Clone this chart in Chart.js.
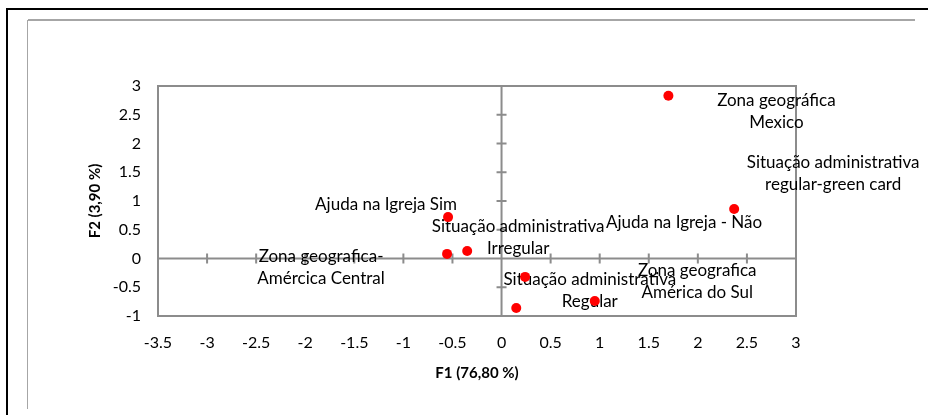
<!DOCTYPE html>
<html>
<head>
<meta charset="utf-8">
<script src="https://cdn.jsdelivr.net/npm/chart.js@4"></script>
<style>
  html, body { margin: 0; padding: 0; background: #fff; }
  #wrap { position: relative; width: 928px; height: 415px; }
</style>
</head>
<body>
<div id="wrap"><canvas id="chart" width="928" height="415"></canvas></div>
<script>
// Modalidades (rótulos) e coordenadas F1 / F2
const labels = [
    ['Zona geográfica', 'Mexico'],
    ['Situação administrativa', 'regular-green card'],
    ['Ajuda na Igreja Sim'],
    ['Situação administrativa', 'Irregular'],
    ['Zona geografica-', 'Amércica Central'],
    ['Ajuda na Igreja - Não'],
    ['Situação administrativa', 'Regular'],
    ['Zona geografica', 'América do Sul']
];
const f1Values = [1.70, 2.37, -0.545, -0.35, -0.555, 0.24, 0.95, 0.15];
const f2Values = [2.83, 0.86, 0.72, 0.13, 0.08, -0.32, -0.74, -0.86];

const xTicks = { min: -3.5, max: 3, step: 0.5 };
const yTicks = { min: -1, max: 3, step: 0.5 };

// deslocamento dos rótulos em px a partir do ponto (centro da 1a linha)
const labelOffsets = [
    [108, 5], [99, -47], [-62, -13], [51, -25],
    [-126, 3], [159, -54], [-5, -22], [181, -37]
];

const FONT = 'Lato, Calibri, "Open Sans", sans-serif';
const AXIS_GRAY = '#8c8c8c';

const frameAndCross = {
    id: 'frameAndCross',
    beforeDraw(chart) {
        const { ctx } = chart;
        ctx.save();
        // moldura externa
        ctx.strokeStyle = '#000';
        ctx.lineWidth = 2;
        ctx.beginPath();
        ctx.moveTo(928, 9); ctx.lineTo(7, 9); ctx.lineTo(7, 415);
        ctx.stroke();
        ctx.strokeStyle = '#a6a6a6';
        ctx.lineWidth = 2;
        ctx.beginPath();
        ctx.moveTo(915, 20); ctx.lineTo(28, 20);
        ctx.stroke();
        ctx.lineWidth = 1;
        ctx.beginPath();
        ctx.moveTo(27.5, 20); ctx.lineTo(27.5, 409);
        ctx.stroke();
        ctx.restore();
    },
    beforeDatasetsDraw(chart) {
        const { ctx, chartArea: a, scales: { x, y } } = chart;
        ctx.save();
        ctx.strokeStyle = AXIS_GRAY;
        ctx.lineWidth = 2;
        ctx.strokeRect(a.left, a.top, a.width, a.height);
        const x0 = x.getPixelForValue(0);
        const y0 = y.getPixelForValue(0);
        ctx.beginPath();
        ctx.moveTo(a.left, y0); ctx.lineTo(a.right, y0);
        ctx.moveTo(x0, a.top); ctx.lineTo(x0, a.bottom);
        x.ticks.forEach(t => {
            const px = x.getPixelForValue(t.value);
            ctx.moveTo(px, y0 - 5); ctx.lineTo(px, y0 + 5);
        });
        y.ticks.forEach(t => {
            const py = y.getPixelForValue(t.value);
            ctx.moveTo(x0 - 5, py); ctx.lineTo(x0 + 5, py);
        });
        ctx.stroke();

        // rótulos dos pontos
        const meta = chart.getDatasetMeta(0);
        ctx.fillStyle = '#000';
        ctx.font = '17px ' + FONT;
        ctx.textAlign = 'center';
        ctx.textBaseline = 'middle';
        meta.data.forEach((pt, i) => {
            const [dx, dy] = labelOffsets[i];
            labels[i].forEach((line, j) => {
                ctx.fillText(line, pt.x + dx, pt.y + dy + j * 22);
            });
        });
        ctx.restore();
    }
};

new Chart(document.getElementById('chart'), {
    type: 'scatter',
    data: {
        datasets: [{
            data: f1Values.map((v, i) => ({ x: v, y: f2Values[i] })),
            backgroundColor: '#ff0000',
            borderWidth: 0,
            pointRadius: 5
        }]
    },
    options: {
        responsive: false,
        animation: false,
        layout: { padding: { left: 0, right: 132, top: 86, bottom: 0 } },
        plugins: { legend: { display: false }, tooltip: { enabled: false } },
        scales: {
            x: {
                min: xTicks.min, max: xTicks.max,
                grid: { display: false, drawTicks: false },
                border: { display: false },
                ticks: {
                    stepSize: xTicks.step, padding: 17, color: '#000',
                    font: { family: FONT, size: 16 },
                    callback: v => String(+v.toFixed(2))
                },
                title: {
                    display: true, text: 'F1 (76,80 %)', color: '#000',
                    font: { family: FONT, size: 15, weight: 'bold' },
                    padding: { top: 0, bottom: 33 }
                },
                afterFit: s => { s.height = 99; }
            },
            y: {
                min: yTicks.min, max: yTicks.max,
                grid: { display: false, drawTicks: false },
                border: { display: false },
                ticks: {
                    stepSize: yTicks.step, padding: 17, color: '#000',
                    font: { family: FONT, size: 16 },
                    callback: v => String(+v.toFixed(2))
                },
                title: {
                    display: true, text: 'F2 (3,90 %)', color: '#000',
                    font: { family: FONT, size: 15, weight: 'bold' },
                    padding: { top: 86, bottom: 0 }
                },
                afterFit: s => { s.width = 158; }
            }
        }
    },
    plugins: [frameAndCross]
});
</script>
</body>
</html>
